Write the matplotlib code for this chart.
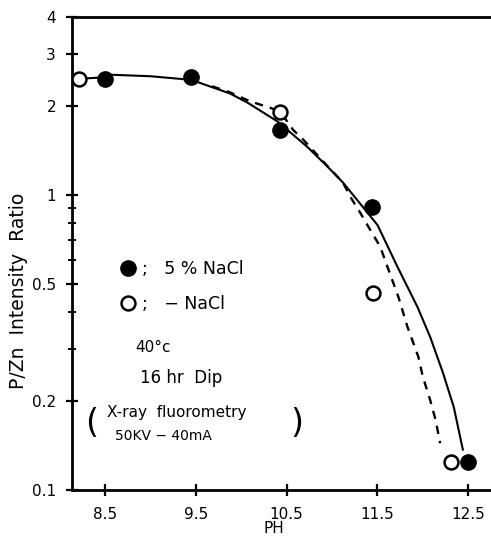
import matplotlib.pyplot as plt
from matplotlib.lines import Line2D

# measured points (pH, P/Zn intensity ratio)
ph_nacl = [8.5, 9.45, 10.43, 11.44, 12.5]
ratio_nacl = [2.47, 2.5, 1.66, 0.91, 0.124]
ph_plain = [8.21, 10.43, 11.45, 12.31]
ratio_plain = [2.47, 1.91, 0.466, 0.124]

# hand-drawn fitting curves
curve_solid_x = [8.21, 8.5, 8.56, 9.0, 9.45, 9.88, 10.07, 10.4, 10.73, 10.95,
                 11.12, 11.5, 11.72, 11.94, 12.08, 12.22, 12.34, 12.44]
curve_solid_y = [2.47, 2.5, 2.55, 2.52, 2.45, 2.2, 2.05, 1.77, 1.45, 1.245,
                 1.1, 0.79, 0.57, 0.417, 0.33, 0.25, 0.191, 0.137]
curve_dash_x = [9.68, 9.88, 10.1, 10.32, 10.43, 10.57, 10.68, 10.95, 11.12, 11.2,
                11.31, 11.4, 11.53, 11.61, 11.73, 11.83, 11.95, 12.0, 12.08,
                12.14, 12.19]
curve_dash_y = [2.33, 2.22, 2.07, 1.97, 1.91, 1.66, 1.54, 1.25, 1.1, 0.985,
                0.869, 0.779, 0.667, 0.57, 0.451, 0.357, 0.2825, 0.2415, 0.2018,
                0.1727, 0.144]

xticks = [8.5, 9.5, 10.5, 11.5, 12.5]
yticks = [0.1, 0.2, 0.5, 1, 2, 3, 4]
ytick_labels = ['0.1', '0.2', '0.5', '1', '2', '3', '4']
yminor = [0.3, 0.4, 0.6, 0.7, 0.8, 0.9]

fig = plt.figure(figsize=(4.91, 5.43), dpi=100)
ax = fig.add_axes([0.1466, 0.0976, 0.8534, 0.8711])

ax.plot(curve_solid_x, curve_solid_y, color='black', lw=1.5)
ax.plot(curve_dash_x, curve_dash_y, color='black', lw=1.7, ls=(0, (3.5, 3)))
ax.plot(ph_nacl, ratio_nacl, 'o', color='black', ms=11, zorder=3)
ax.plot(ph_plain, ratio_plain, 'o', mfc='white', mec='black', mew=1.8, ms=10, zorder=4)

ax.set_yscale('log')
ax.set_ylim(0.1, 4)
ax.set_xlim(8.136, 12.75)
ax.set_yticks(yticks)
ax.set_yticklabels(ytick_labels)
ax.set_yticks(yminor, minor=True)
ax.set_yticklabels([], minor=True)
ax.set_xticks(xticks)
ax.set_xticklabels(['8.5', '9.5', '10.5', '11.5', '12.5'])

ax.tick_params(axis='both', which='major', direction='inout', length=9, width=1.6,
               labelsize=11, pad=4)
ax.tick_params(axis='y', which='minor', direction='inout', length=6, width=1.4)
ax.tick_params(axis='y', pad=7)
ax.tick_params(axis='x', pad=8)

ax.spines['right'].set_visible(False)
for s in ['left', 'top', 'bottom']:
    ax.spines[s].set_linewidth(2)

ax.set_xlabel('PH', fontsize=11)
ax.xaxis.set_label_coords(0.482, -0.065)
ax.set_ylabel('P/Zn  Intensity  Ratio', fontsize=13.5)
ax.yaxis.set_label_coords(-0.105, 0.42)

# legend with the data markers
h1 = Line2D([], [], marker='o', color='black', ls='none', ms=11)
h2 = Line2D([], [], marker='o', mfc='white', mec='black', mew=1.8, ls='none', ms=10)
ax.legend([h1, h2], [';   5 % NaCl', ';   \u2212 NaCl'], loc='upper left',
          bbox_to_anchor=(0.08, 0.52), frameon=False, handlelength=0.8,
          handletextpad=0.4, labelspacing=1.0, fontsize=12.5)

ax.text(8.83, 0.303, '40\u00b0c', fontsize=11, va='center')
ax.text(8.886, 0.240, '16 hr  Dip', fontsize=12, va='center')
ax.text(8.52, 0.1824, 'X-ray  fluorometry', fontsize=11, va='center')
ax.text(8.61, 0.1524, '50KV \u2212 40mA', fontsize=10, va='center')
ax.text(8.357, 0.168, '(', fontsize=24, va='center', ha='center')
ax.text(10.616, 0.168, ')', fontsize=24, va='center', ha='center')

plt.savefig('out.png', dpi=100)
